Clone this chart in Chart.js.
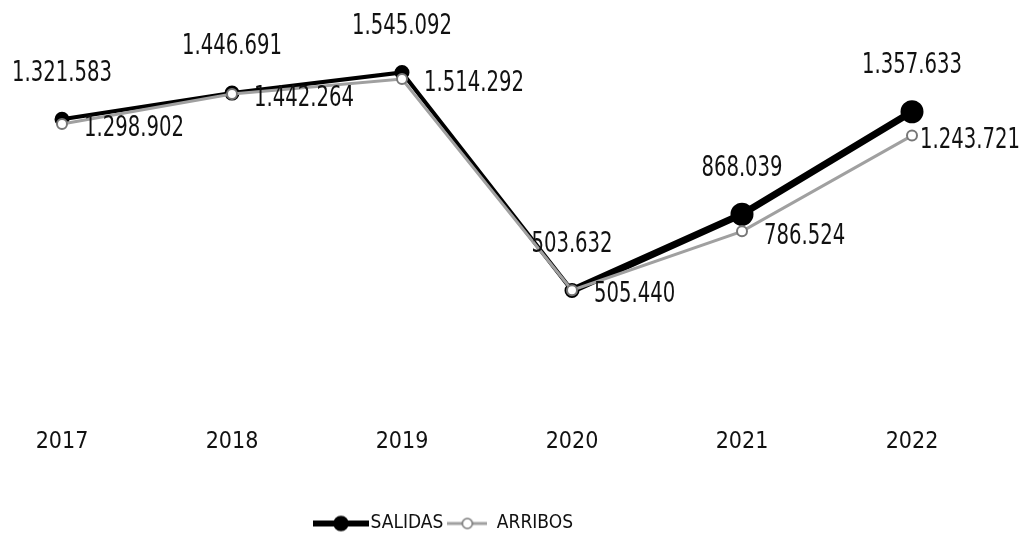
<!DOCTYPE html>
<html>
<head>
<meta charset="utf-8">
<script src="https://cdn.jsdelivr.net/npm/chart.js@4.4.1/dist/chart.umd.min.js"></script>
<style>
  html, body { margin: 0; padding: 0; background: #fff; }
  #wrap { width: 1022px; height: 536px; }
</style>
</head>
<body>
<div id="wrap"><canvas id="chart"></canvas></div>
<script>
// --- data ---
const YEARS = ['2017', '2018', '2019', '2020', '2021', '2022'];
const SALIDAS = [1321583, 1446691, 1545092, 503632, 868039, 1357633];
const ARRIBOS = [1298902, 1442264, 1514292, 505440, 786524, 1243721];

const FONT = "'Liberation Sans Narrow', 'DejaVu Sans Condensed', 'Arial Narrow', sans-serif";

// thousands with dots, like the source
const fmt = v => String(v).replace(/\B(?=(\d{3})+(?!\d))/g, '.');

// legend swatches: line + marker
const makeSwatch = (w, lineColor, lineWidth, radius, fill, stroke) => {
    const c = document.createElement('canvas');
    c.width = w; c.height = 20;
    const g = c.getContext('2d');
    g.strokeStyle = lineColor;
    g.lineWidth = lineWidth;
    g.beginPath(); g.moveTo(0, 10); g.lineTo(w, 10); g.stroke();
    g.beginPath(); g.arc(w / 2, 10, radius, 0, 2 * Math.PI);
    g.fillStyle = fill; g.fill();
    g.strokeStyle = stroke; g.lineWidth = 1.5; g.stroke();
    return c;
};

// value labels: salidas above, arribos to the right (condensed look)
const SQUEEZE = 0.78;
const valueLabels = {
    id: 'valueLabels',
    afterLayout(chart) {
        // legend sits a little left of centre in the source
        if (chart.legend) { chart.legend.left -= 40; chart.legend.right -= 40; }
    },
    afterDatasetsDraw(chart) {
        const ctx = chart.ctx;
        ctx.save();
        ctx.font = '28px ' + FONT;
        ctx.fillStyle = '#111';
        ctx.textBaseline = 'middle';
        chart.data.datasets.forEach((ds, di) => {
            const meta = chart.getDatasetMeta(di);
            meta.data.forEach((pt, i) => {
                const txt = fmt(ds.data[i]);
                const w = ctx.measureText(txt).width * SQUEEZE;
                let x, y;
                if (ds.label === 'SALIDAS') {
                    x = pt.x - w / 2;
                    y = pt.y - 46;
                } else {
                    x = Math.min(pt.x + 22, chart.width - w - 2);
                    y = pt.y + 5;
                }
                ctx.save();
                ctx.translate(x, y);
                ctx.scale(SQUEEZE, 1);
                ctx.textAlign = 'left';
                ctx.fillText(txt, 0, 0);
                ctx.restore();
            });
        });
        ctx.restore();
    }
};

const ctx = document.getElementById('chart').getContext('2d');
new Chart(ctx, {
    type: 'line',
    data: {
        labels: YEARS,
        datasets: [
            {
                label: 'SALIDAS',
                data: SALIDAS,
                borderColor: '#000',
                backgroundColor: '#000',
                borderWidth: 7,
                segment: { borderWidth: c => (c.p0DataIndex >= 3 ? 7 : 4) },
                pointRadius: c => (c.dataIndex >= 4 ? 8 : 4),
                pointBackgroundColor: '#000',
                pointBorderColor: '#000',
                tension: 0,
                order: 1
            },
            {
                label: 'ARRIBOS',
                data: ARRIBOS,
                borderColor: '#a0a0a0',
                backgroundColor: '#fff',
                borderWidth: 3,
                pointRadius: 5,
                pointBorderWidth: 2,
                pointBackgroundColor: '#fff',
                pointBorderColor: '#777',
                tension: 0,
                order: 0
            }
        ]
    },
    options: {
        responsive: true,
        maintainAspectRatio: false,
        animation: false,
        layout: { padding: { left: 62, right: 110, top: 61, bottom: -7 } },
        plugins: {
            tooltip: { enabled: false },
            legend: {
                position: 'bottom',
                labels: {
                    usePointStyle: true,
                    pointStyleWidth: 40,
                    padding: 4,
                    color: '#111',
                    font: { family: FONT, size: 19 },
                    generateLabels: () => [
                        { text: 'SALIDAS', datasetIndex: 0, fontColor: '#111', lineWidth: 0,
                          pointStyle: makeSwatch(56, '#000', 6, 7, '#000', '#000') },
                        { text: 'ARRIBOS', datasetIndex: 1, fontColor: '#111', lineWidth: 0,
                          pointStyle: makeSwatch(40, '#a0a0a0', 3, 5, '#fff', '#777') }
                    ]
                }
            }
        },
        scales: {
            x: {
                grid: { display: false },
                border: { display: false },
                ticks: { color: '#111', font: { family: FONT, size: 23 }, padding: 24 },
                afterFit: (scale) => { scale.height = 114; }
            },
            y: {
                display: false,
                min: 0,
                max: 1600000
            }
        }
    },
    plugins: [valueLabels]
});
</script>
</body>
</html>
